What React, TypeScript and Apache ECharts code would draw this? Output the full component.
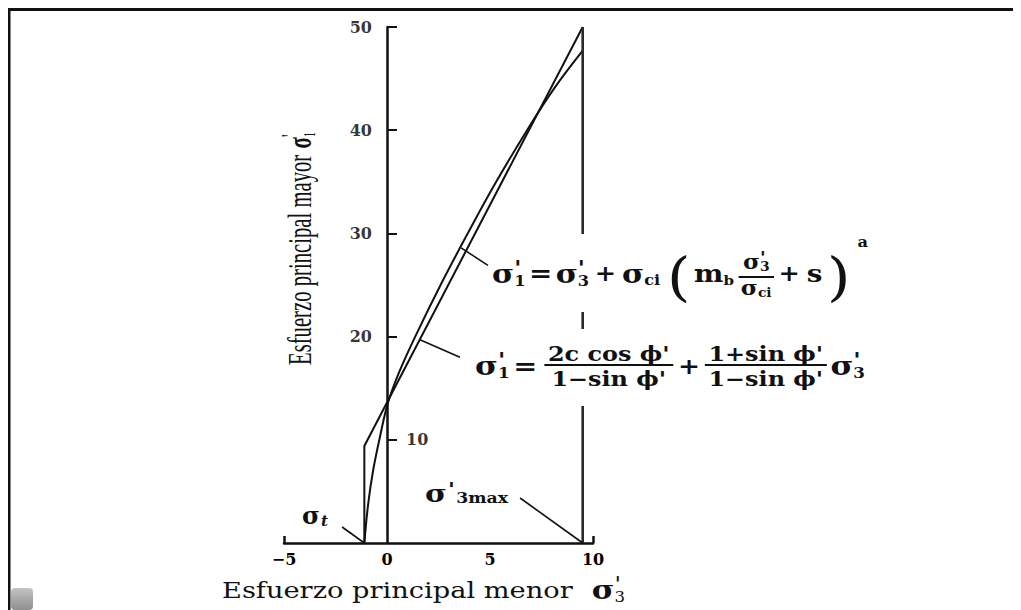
import React, { useEffect, useRef } from 'react';
import * as echarts from 'echarts';

// ---------- data ----------
const xTickValues = [-5, 0, 5, 10];
const xEndTicks = [-5, 10];
const yTickValues = [10, 20, 30, 40, 50];
const yLeftLabels = [20, 30, 40, 50];
const yInsideLabel = [10];

// Hoek-Brown curve (sigma'3, sigma'1)
const sigma3HB = [-1.1, -0.91, -0.67, -0.34, 0.05, 0.6, 1.37, 2.6, 3.92, 5.3, 6.8, 8.1, 9.5];
const sigma1HB = [0, 3.85, 7.07, 10.3, 13.6, 16.6, 20, 25, 30, 35, 40, 44, 47.7];

// Mohr-Coulomb fit with tension cut-off
const sigma3MC = [-1.1, -1.1, 9.5];
const sigma1MC = [0, 9.4, 50];

// sigma'3max limit
const sigma3Limit = [9.5, 9.5];
const sigma1Limit = [0, 50];

// leader lines (data space)
const leaderHB = [[3.6, 28.6], [4.9, 26.9]];
const leaderMC = [[1.6, 19.7], [3.54, 18.0]];
const leaderSt = [[-2.18, 1.55], [-1.1, 0]];
const leaderMax = [[6.46, 4.36], [9.5, 0]];

// ---------- text layout helpers ----------
const FAM = '"DejaVu Serif", serif';
const TIMES = '"Liberation Serif", "Times New Roman", serif';
const INK = '#111';

type Tok = { t: string; s: number; dy?: number; w?: string; it?: boolean; adv?: boolean; fam?: string; gap?: number };
type Frac = { num: Tok[]; den: Tok[]; numDy: number; denDy: number; pad: number; gap?: number };
type Item = Tok | Frac;

let mctx: any = null;
function tw(tok: Tok, fam: string, weight: string) {
  if (!mctx) mctx = document.createElement('canvas').getContext('2d');
  mctx.font = `${tok.it ? 'italic' : 'normal'} ${tok.w ?? weight} ${tok.s}px ${tok.fam ?? fam}`;
  return mctx.measureText(tok.t).width;
}
function runWidth(toks: Tok[], fam: string, weight: string) {
  let x = 0;
  let w = 0;
  for (const t of toks) {
    x += t.gap ?? 0;
    const tt = tw(t, fam, weight);
    w = Math.max(w, x + tt);
    if (t.adv !== false) x += tt;
  }
  return Math.max(w, x);
}
function build(items: Item[], fam: string, weight: string, baseDy: number, z: number) {
  const children: any[] = [];
  let x = 0;
  const put = (tok: Tok, xx: number, dy: number) => {
    children.push({
      type: 'text', x: xx, y: dy + (tok.dy ?? 0), z, silent: true,
      style: {
        text: tok.t, fill: INK, fontSize: tok.s, fontFamily: tok.fam ?? fam,
        fontWeight: tok.w ?? weight, fontStyle: tok.it ? 'italic' : 'normal',
        align: 'left', verticalAlign: 'middle',
      },
    });
    return tw(tok, fam, weight);
  };
  const putRun = (toks: Tok[], x0: number, dy: number) => {
    let xx = x0;
    for (const t of toks) {
      xx += t.gap ?? 0;
      const w = put(t, xx, dy);
      if (t.adv !== false) xx += w;
    }
  };
  for (const it of items) {
    x += it.gap ?? 0;
    if ('num' in it) {
      const nw = runWidth(it.num, fam, weight);
      const dw = runWidth(it.den, fam, weight);
      const W = Math.max(nw, dw) + 2 * it.pad;
      putRun(it.num, x + (W - nw) / 2, it.numDy);
      putRun(it.den, x + (W - dw) / 2, it.denDy);
      children.push({ type: 'line', z, silent: true, shape: { x1: x, y1: 0, x2: x + W, y2: 0 }, style: { stroke: INK, lineWidth: 1.8 } });
      x += W;
    } else {
      const w = put(it, x, baseDy);
      if (it.adv !== false) x += w;
    }
  }
  return { children, width: x };
}
function label(items: Item[], o: { x: number; y: number; width?: number; fam?: string; weight?: string; baseDy?: number; rot?: number; z?: number }) {
  const z = o.z ?? 50;
  const { children, width } = build(items, o.fam ?? FAM, o.weight ?? 'bold', o.baseDy ?? 0, z);
  return {
    type: 'group', x: o.x, y: o.y, rotation: o.rot ?? 0,
    scaleX: o.width ? o.width / width : 1, silent: true, z, children,
  };
}

const sig = (gap = 0, s = 26): Tok => ({ t: 'σ', s, gap });
const primeSub = (d: string): Tok[] => [
  { t: "'", s: 20, dy: -6, adv: false, gap: 0 },
  { t: d, s: 14, dy: 7, gap: 0 },
];

const zip = (a: number[], b: number[]) => a.map((v, i) => [v, b[i]]);

export default function App() {
  const ref = useRef<HTMLDivElement>(null);
  useEffect(() => {
    if (!ref.current) return;
    const chart = echarts.init(ref.current, undefined, { renderer: 'svg' });

    const formula1: Item[] = [
      sig(), ...primeSub('1'),
      { t: '=', s: 24, gap: 3 },
      sig(3), ...primeSub('3'),
      { t: '+', s: 22, gap: 5 },
      sig(5), { t: 'ci', s: 14, dy: 6 },
      { t: '(', s: 52, w: 'normal', gap: 6, dy: 3 },
      { t: 'm', s: 24, gap: 3 }, { t: 'b', s: 13, dy: 6 },
      {
        num: [{ t: 'σ', s: 20 }, { t: "'", s: 16, dy: -5, adv: false }, { t: '3', s: 12, dy: 5 }],
        den: [{ t: 'σ', s: 20 }, { t: 'ci', s: 12, dy: 5 }],
        numDy: -15, denDy: 11, pad: 2, gap: 4,
      },
      { t: '+', s: 22, gap: 4 },
      { t: 's', s: 24, gap: 6 },
      { t: ')', s: 52, w: 'normal', gap: 4, dy: 3 },
      { t: 'a', s: 14, dy: -32, gap: 6 },
    ];

    const formula2: Item[] = [
      sig(), ...primeSub('1'),
      { t: '=', s: 24, gap: 3 },
      { num: [{ t: "2c cos ϕ'", s: 20 }], den: [{ t: "1−sin ϕ'", s: 20 }], numDy: -11, denDy: 14, pad: 3, gap: 6 },
      { t: '+', s: 22, gap: 4 },
      { num: [{ t: "1+sin ϕ'", s: 20 }], den: [{ t: "1−sin ϕ'", s: 20 }], numDy: -11, denDy: 14, pad: 3, gap: 4 },
      sig(3), ...primeSub('3'),
    ];

    const yTitle: Item[] = [
      { t: 'Esfuerzo principal mayor', s: 34, w: 'normal' },
      { t: 'σ', s: 34, w: 'bold', gap: 10 },
      { t: "'", s: 26, dy: -9, adv: false },
      { t: '1', s: 17, dy: 9 },
    ];
    const xTitle: Item[] = [
      { t: 'Esfuerzo principal menor', s: 23, w: 'normal' },
      { t: 'σ', s: 26, w: 'bold', gap: 16 },
      { t: "'", s: 20, dy: -6, adv: false },
      { t: '3', s: 14, dy: 7 },
    ];
    const sigmaT: Item[] = [{ t: 'σ', s: 24 }, { t: 't', s: 15, it: true, dy: 5, gap: 1 }];
    const sigmaMax: Item[] = [{ t: 'σ', s: 24 }, { t: "'", s: 18, dy: -4, gap: 1 }, { t: '3max', s: 14, dy: 4, gap: 1 }];

    const lineSeries = (data: number[][], width: number, smooth: number | boolean = false, color = INK) => ({
      type: 'line', data, smooth, symbol: 'none', silent: true,
      lineStyle: { color, width }, z: 3,
    });

    const tickFont = { color: '#000', fontFamily: FAM, fontWeight: 'bold', fontSize: 16 };

    chart.setOption({
      animation: false,
      backgroundColor: '#fff',
      tooltip: { show: false },
      grid: { left: 284, right: 1021 - 593, top: 27, bottom: 610 - 543, containLabel: false },
      xAxis: {
        type: 'value', min: -5, max: 10, interval: 5,
        splitLine: { show: false },
        axisLine: { onZero: false, lineStyle: { color: INK, width: 2.5 } },
        axisTick: { show: true, inside: true, length: 7, customValues: xEndTicks, lineStyle: { color: INK, width: 2.5 } },
        axisLabel: {
          customValues: xTickValues, margin: 8, ...tickFont,
          formatter: (v: number) => (v < 0 ? '−' + Math.abs(v) : String(v)),
        },
      },
      yAxis: {
        type: 'value', min: 0, max: 50, interval: 10,
        splitLine: { show: false },
        axisLine: { onZero: true, lineStyle: { color: INK, width: 2.5 } },
        axisTick: { show: true, inside: true, length: 10, customValues: yTickValues, lineStyle: { color: INK, width: 2 } },
        axisLabel: { show: false },
      },
      series: [
        lineSeries(zip(sigma3HB, sigma1HB), 2, 0.4),
        lineSeries(zip(sigma3MC, sigma1MC), 2),
        lineSeries(zip(sigma3Limit, sigma1Limit), 2.6, false, '#2a2a2a'),
        lineSeries(leaderHB, 1.6),
        lineSeries(leaderMC, 1.6),
        lineSeries(leaderSt, 1.6),
        lineSeries(leaderMax, 1.6),
        {
          type: 'scatter', data: yLeftLabels.map((v) => [0, v]), symbolSize: 0, silent: true,
          label: { show: true, position: 'left', distance: 15, formatter: (p: any) => String(p.value[1]), ...tickFont },
        },
        {
          type: 'scatter', data: yInsideLabel.map((v) => [0, v]), symbolSize: 0, silent: true,
          label: { show: true, position: 'right', distance: 19, formatter: (p: any) => String(p.value[1]), ...tickFont },
        },
      ],
      graphic: [
        // frame
        { type: 'rect', z: 60, silent: true, shape: { x: 8, y: 8, width: 1013, height: 3 }, style: { fill: '#111' } },
        { type: 'rect', z: 60, silent: true, shape: { x: 8, y: 8, width: 2.5, height: 602 }, style: { fill: '#111' } },
        {
          type: 'rect', z: 60, silent: true, shape: { x: 11, y: 588, width: 22, height: 22, r: 4 },
          style: { fill: new echarts.graphic.LinearGradient(0, 0, 0, 1, [{ offset: 0, color: '#c4c4c4' }, { offset: 1, color: '#8f8f8f' }]) },
        },
        // white backgrounds behind formulas (interrupt the limit line)
        { type: 'rect', z: 40, silent: true, shape: { x: 489, y: 234, width: 386, height: 78 }, style: { fill: '#fff' } },
        { type: 'rect', z: 40, silent: true, shape: { x: 470, y: 329, width: 402, height: 77 }, style: { fill: '#fff' } },
        label(formula1, { x: 492, y: 277, width: 376, baseDy: -3 }),
        label(formula2, { x: 475, y: 365, width: 390, baseDy: 1 }),
        label(yTitle, { x: 300, y: 365, width: 233, fam: TIMES, weight: 'normal', rot: Math.PI / 2 }),
        label(xTitle, { x: 222, y: 590, width: 403, weight: 'normal' }),
        label(sigmaT, { x: 302, y: 516, width: 26 }),
        label(sigmaMax, { x: 425, y: 494, width: 83 }),
      ],
    });
    return () => chart.dispose();
  }, []);
  return <div ref={ref} style={{ width: 1021, height: 610, margin: '-8px 0 0 -8px', background: '#fff' }} />;
}
